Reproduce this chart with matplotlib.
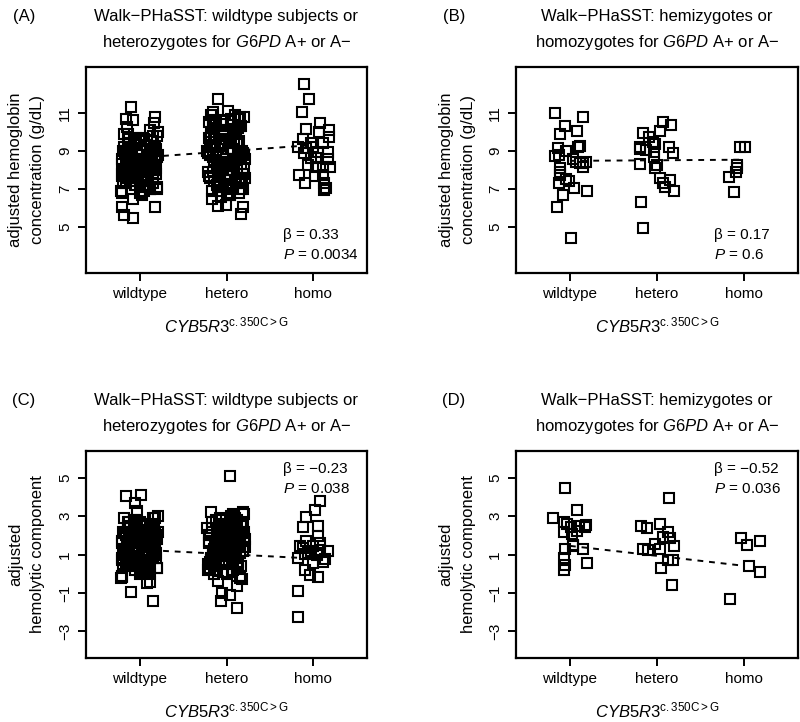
import numpy as np
import matplotlib
matplotlib.use("Agg")
import matplotlib.pyplot as plt

plt.rcParams["font.family"] = ["Liberation Sans", "DejaVu Sans"]
plt.rcParams["mathtext.fontset"] = "custom"
plt.rcParams["mathtext.rm"] = "Liberation Sans"
plt.rcParams["mathtext.it"] = "Liberation Sans:italic"

MINUS = "\u2212"

# ---- data ----
groups = ["wildtype", "hetero", "homo"]

# horizontal jitter shared by the dense clusters (offset from group position)
jitter = [
    -0.18, 0.05, -0.12, 0.17, -0.03, 0.10, -0.20, 0.14, -0.08, 0.02,
    0.19, -0.15, 0.07, -0.05, 0.12, -0.21, 0.00, 0.16, -0.10, 0.08,
    -0.17, 0.04, 0.20, -0.13, 0.11, -0.02, -0.19, 0.15, -0.07, 0.06,
    0.18, -0.11, 0.01, -0.16, 0.13, -0.04, 0.09, -0.22, 0.21, -0.09,
    0.03, -0.14, 0.17, -0.06, 0.10, -0.18, 0.07, -0.01, 0.14, -0.20,
    0.05, -0.12, 0.19, -0.08, 0.11, -0.16, 0.02, 0.15, -0.03, -0.21,
    0.08, -0.10, 0.16, -0.05, 0.12, -0.19, 0.04, -0.14, 0.20, -0.07,
    0.01, 0.13, -0.17, 0.09, -0.02, 0.18, -0.11, 0.06, -0.15, 0.10,
    -0.20, 0.03, 0.17, -0.09, 0.14, -0.04, -0.18, 0.07, 0.21, -0.13,
    0.00, 0.11, -0.06, 0.15, -0.16, 0.05, -0.01, 0.19, -0.12, 0.08,
    -0.08, 0.16, -0.19, 0.02, 0.12, -0.14, 0.06, -0.03, 0.20, -0.10,
]

# Panel A: hemoglobin, wildtype / heterozygote G6PD
a_wt_core = [
    9.9, 9.6, 9.4, 9.2, 9.0, 8.8, 8.6, 8.4, 8.2, 8.0,
    7.8, 7.6, 7.4, 7.2, 7.0, 6.8, 9.5, 9.1, 8.7, 8.3,
    7.9, 7.5, 7.1, 8.9, 8.5, 8.1, 7.7, 7.3, 9.3, 8.6,
    8.0, 7.4, 9.7, 9.0, 8.4, 7.8, 7.2, 6.9, 8.8, 8.2,
    7.6, 9.4, 8.7, 8.1, 7.5, 9.2, 8.5, 7.9, 8.9, 8.3,
    7.7, 9.6, 9.1, 8.6, 8.0, 7.3, 6.7, 9.8, 8.4, 7.8,
    9.3, 8.8, 8.2, 7.6, 7.0, 9.0, 8.5, 8.0, 8.7, 8.1,
    7.5, 9.5, 8.9, 8.3, 7.9, 8.6, 9.2, 7.1, 8.4, 8.8,
    7.7, 9.1, 8.2, 7.4, 8.6, 9.7, 8.0, 7.2, 10.0, 9.9,
    6.8, 8.5, 9.4, 7.8, 8.3, 6.9, 9.6, 8.1, 8.7, 7.9,
    8.5, 9.0, 7.3, 8.2, 8.9, 7.6, 8.4, 9.3, 7.0, 8.6,
]
a_wt_out_x = [0.90, 0.84, 0.92, 0.85, 1.18, 1.16, 1.12, 1.20, 0.80, 0.82, 0.92, 1.17, 0.92]
a_wt_out_y = [11.31, 10.65, 10.62, 10.27, 10.76, 10.44, 10.09, 9.78, 6.08, 5.64, 5.47, 6.08, 6.46]
a_het_core = [
    10.9, 10.7, 10.5, 10.3, 10.1, 9.9, 9.7, 9.5, 9.3, 9.1,
    8.9, 8.7, 8.5, 8.3, 8.1, 7.9, 7.7, 7.5, 7.3, 7.1,
    6.9, 6.7, 10.8, 10.4, 10.0, 9.6, 9.2, 8.8, 8.4, 8.0,
    7.6, 7.2, 6.8, 10.6, 10.2, 9.8, 9.4, 9.0, 8.6, 8.2,
    7.8, 7.4, 7.0, 6.6, 10.9, 10.0, 9.1, 8.2, 7.3, 10.5,
    9.6, 8.7, 7.8, 6.9, 10.1, 9.2, 8.3, 7.4, 9.9, 8.9,
    8.0, 7.1, 10.3, 9.4, 8.5, 7.6, 6.7, 9.7, 8.8, 7.9,
    7.0, 10.7, 9.3, 8.4, 7.5, 9.0, 8.1, 7.2, 10.2, 8.6,
    7.7, 9.5, 8.3, 7.4, 6.8, 10.6, 9.8, 8.9, 7.6, 9.2,
    8.0, 7.3, 10.4, 8.7, 7.9, 9.1, 8.4, 7.0, 9.6, 8.2,
    7.5, 10.8, 8.8, 7.8, 9.4, 8.5, 7.2, 10.0, 8.1, 7.7,
]
a_het_out_x = [1.90, 1.85, 2.02, 1.83, 1.90, 1.99, 2.19, 2.17]
a_het_out_y = [11.70, 11.05, 11.10, 6.50, 6.11, 6.17, 6.08, 5.69]
a_homo_x = [2.89, 2.95, 2.87, 3.08, 2.92, 3.18, 3.07, 3.18, 2.88, 2.97, 3.11, 2.83, 2.92,
            3.00, 2.89, 3.05, 3.17, 2.97, 3.03, 3.17, 2.94, 3.19, 3.03, 3.11, 2.84, 3.02,
            3.11, 2.90, 3.12, 3.12, 3.15]
a_homo_y = [12.50, 11.70, 11.05, 10.48, 10.13, 10.09, 10.00, 9.71, 9.60, 9.43, 9.39, 9.18, 9.13,
            9.18, 8.87, 8.96, 8.96, 8.64, 8.61, 8.57, 8.26, 8.17, 8.14, 8.14, 7.74, 7.68,
            7.74, 7.34, 7.34, 6.95, 7.04]

# Panel B: hemoglobin, hemizygote / homozygote G6PD
b_wt_x = [0.83, 1.15, 0.94, 0.89, 1.08, 1.11, 1.09, 0.86, 0.96, 0.83, 0.87, 1.03, 1.07, 1.12,
          1.15, 1.18, 1.15, 0.89, 0.89, 0.88, 0.96, 0.87, 0.99, 1.05, 1.20, 0.92, 0.85, 1.01]
b_wt_y = [10.97, 10.76, 10.30, 9.87, 10.04, 9.27, 9.19, 9.14, 9.01, 8.73, 8.79, 8.56, 8.43, 8.38,
          8.35, 8.43, 8.17, 8.09, 7.91, 7.74, 7.51, 7.34, 7.42, 7.04, 6.90, 6.69, 6.05, 4.42]
b_het_x = [2.07, 2.16, 2.03, 1.84, 1.91, 1.95, 1.98, 1.80, 1.81, 1.87, 1.96, 2.14, 2.18, 1.96,
           1.80, 2.00, 1.98, 2.03, 2.15, 2.07, 2.09, 2.19, 1.82, 1.84]
b_het_y = [10.50, 10.36, 10.06, 9.92, 9.74, 9.48, 9.35, 9.22, 9.10, 9.05, 8.96, 9.22, 8.91, 8.66,
           8.31, 8.26, 8.09, 7.57, 7.48, 7.30, 7.09, 6.92, 6.31, 4.98]
b_homo_x = [2.95, 3.01, 2.92, 2.92, 2.91, 2.83, 2.88]
b_homo_y = [9.22, 9.19, 8.26, 8.09, 7.91, 7.65, 6.86]

# Panel C: hemolytic component, wildtype / heterozygote G6PD
c_wt_core = [
    2.9, 2.6, 2.4, 2.2, 2.0, 1.8, 1.6, 1.4, 1.2, 1.0,
    0.8, 0.6, 0.4, 0.2, 0.0, -0.1, 2.7, 2.3, 1.9, 1.5,
    1.1, 0.7, 0.3, 2.5, 2.1, 1.7, 1.3, 0.9, 2.8, 1.6,
    1.0, 0.5, 2.6, 2.0, 1.4, 0.8, 0.2, -0.2, 2.2, 1.8,
    1.2, 2.4, 1.9, 1.3, 0.7, 2.1, 1.5, 1.1, 2.3, 1.7,
    0.9, 2.7, 2.0, 1.6, 1.0, 0.4, 0.1, 2.9, 1.4, 0.8,
    2.5, 1.9, 1.3, 0.6, 0.3, 2.2, 1.7, 1.2, 1.8, 1.1,
    0.5, 2.6, 2.1, 1.5, 0.9, 1.6, 2.4, 0.2, 1.4, 2.0,
    0.7, 2.3, 1.2, 0.4, 1.8, 2.8, 1.0, 0.3, 3.0, 2.7,
    0.0, 1.5, 2.5, 0.8, 1.3, 0.1, 2.2, 1.1, 1.9, 0.6,
    1.7, 2.0, 0.5, 1.2, 2.1, 0.9, 1.4, 2.4, 0.3, 1.6,
]
c_wt_out_x = [0.84, 1.01, 0.95, 0.97, 0.80, 0.90, 1.08, 1.15, 1.12, 1.18]
c_wt_out_y = [4.06, 4.12, 3.68, 3.25, -0.15, -0.98, -0.50, -1.45, -0.46, 2.90]
c_het_core = [
    3.2, 3.0, 2.8, 2.6, 2.4, 2.2, 2.0, 1.8, 1.6, 1.4,
    1.2, 1.0, 0.8, 0.6, 0.4, 0.2, 0.0, -0.2, -0.4, 3.1,
    2.7, 2.3, 1.9, 1.5, 1.1, 0.7, 0.3, -0.1, 2.9, 2.5,
    2.1, 1.7, 1.3, 0.9, 0.5, 0.1, 3.0, 2.4, 1.8, 1.2,
    0.6, 0.0, 2.6, 2.0, 1.4, 0.8, 0.2, 2.8, 2.2, 1.6,
    1.0, 0.4, 2.5, 1.9, 1.3, 0.7, 2.3, 1.7, 1.1, 0.5,
    2.7, 2.1, 1.5, 0.9, 0.3, 2.0, 1.4, 0.8, 3.1, 1.8,
    1.2, 0.6, 2.4, 1.6, 1.0, -0.3, 2.2, 1.5, 0.9, 2.9,
    1.7, 1.1, 0.4, 2.6, 1.9, 1.3, 0.7, 2.1, 1.4, 0.2,
    1.8, 1.0, 2.5, 1.6, 0.5, 2.0, 1.2, 3.2, 0.8, 1.5,
    2.3, 1.1, 0.6, 1.9, 2.8, 1.3, 0.1, 1.7, 2.2, 0.9,
]
c_het_out_x = [2.04, 1.95, 2.04, 1.94, 2.12, 2.12]
c_het_out_y = [5.11, -1.02, -1.11, -1.45, -1.80, -0.62]
c_homo_x = [3.08, 3.02, 2.92, 2.88, 3.06, 3.06, 2.92, 2.85, 2.88, 3.00, 3.08, 3.17, 2.83, 2.94,
            3.04, 3.11, 3.00, 2.90, 2.96, 3.06, 2.83, 2.83, 3.08, 2.90, 3.13, 2.97]
c_homo_y = [3.80, 3.33, 2.98, 2.46, 2.50, 1.94, 1.68, 1.42, 1.33, 1.45, 1.59, 1.16, 0.81, 1.07,
            0.98, 0.63, 0.55, 0.20, -0.06, -0.15, -0.93, -2.27, 1.24, 1.05, 0.75, 1.20]

# Panel D: hemolytic component, hemizygote / homozygote G6PD
d_wt_x = [0.94, 1.08, 0.81, 0.93, 1.01, 1.18, 1.17, 1.08, 0.93, 1.02, 1.04, 1.03, 0.94, 1.15,
          0.93, 0.94, 0.93, 1.20, 1.10, 0.97]
d_wt_y = [4.47, 3.30, 2.90, 2.72, 2.43, 2.55, 2.43, 2.25, 2.17, 2.08, 1.51, 1.42, 1.30, 1.28,
          0.81, 0.46, 0.20, 0.55, 2.50, 2.60]
d_het_x = [2.14, 1.82, 1.88, 2.03, 2.13, 2.07, 2.15, 1.98, 2.20, 1.84, 1.90, 2.03, 2.13, 2.18,
           2.05, 2.17]
d_het_y = [3.95, 2.50, 2.38, 2.60, 2.20, 1.91, 1.86, 1.56, 1.45, 1.28, 1.21, 1.28, 0.69, 0.69,
           0.29, -0.58]
d_homo_x = [2.97, 3.03, 3.18, 3.06, 3.18, 2.84]
d_homo_y = [1.86, 1.51, 1.73, 0.41, 0.11, -1.33]

# fitted lines (value at wildtype, value at homo)
fit_a = [8.65, 9.31]
fit_b = [8.48, 8.54]
fit_c = [1.25, 0.79]
fit_d = [1.45, 0.41]

stats_a = ("0.33", "0.0034")
stats_b = ("0.17", "0.6")
stats_c = (MINUS + "0.23", "0.038")
stats_d = (MINUS + "0.52", "0.036")

title_a = ["Walk" + MINUS + "PHaSST: wildtype subjects or",
           r"heterozygotes for $\mathit{G6PD}$ A+ or A" + MINUS]
title_b = ["Walk" + MINUS + "PHaSST: hemizygotes or",
           r"homozygotes for $\mathit{G6PD}$ A+ or A" + MINUS]
ylab_hb = ["adjusted hemoglobin", "concentration (g/dL)"]
ylab_hc = ["adjusted", "hemolytic component"]
xlab = r"$\mathit{CYB5R3}^{\mathrm{c{.}350C{>}G}}$"


def cluster(core, center):
    return [center + j for j in jitter[:len(core)]], core


fig = plt.figure(figsize=(8, 7.22), dpi=100)
W, H = 800, 722


def panel(rect, letter, title, ylab, pts, fit, stats, yticks, ylim, stats_top):
    l, t, r, b = rect
    ax = fig.add_axes([l / W, 1 - b / H, (r - l) / W, (b - t) / H])
    ax.plot([1, 3], fit, ls=(0, (3, 3)), color="black", lw=1.4, zorder=1)
    for x, y in pts:
        ax.plot(x, y, ls="none", marker="s", ms=7, mfc="none", mec="black",
                mew=1.5, zorder=2)
    ax.set_xlim(0.38, 3.62)
    ax.set_ylim(*ylim)
    ax.set_xticks([1, 2, 3])
    ax.set_xticklabels(groups, fontsize=11)
    ax.set_yticks(yticks)
    ax.set_yticklabels([str(v).replace("-", MINUS) for v in yticks], fontsize=11,
                       rotation=90, va="center")
    ax.tick_params(length=6, width=1.4, pad=4)
    for s in ax.spines.values():
        s.set_linewidth(1.6)

    cx = (l + r) / 2 / W
    fig.text(cx, 1 - (t - 50) / H, title[0], ha="center", va="center", fontsize=12)
    fig.text(cx, 1 - (t - 24) / H, title[1], ha="center", va="center", fontsize=12)
    fig.text((l - 62) / W, 1 - (t - 50) / H, letter, ha="center", va="center", fontsize=12)
    cy = 1 - (t + b) / 2 / H
    fig.text((l - 70) / W, cy, ylab[0], rotation=90, ha="center", va="center", fontsize=12)
    fig.text((l - 48) / W, cy, ylab[1], rotation=90, ha="center", va="center", fontsize=12)
    fig.text(cx, 1 - (b + 52) / H, xlab, ha="center", va="center", fontsize=12)

    sx = r - 84
    fig.text(sx / W, 1 - stats_top / H, "\u03b2 = " + stats[0], ha="left", va="center",
             fontsize=11)
    fig.text(sx / W, 1 - (stats_top + 20) / H, r"$\mathit{P}$ = " + stats[1], ha="left",
             va="center", fontsize=11)
    return ax


pts_a = [cluster(a_wt_core, 1), (a_wt_out_x, a_wt_out_y), cluster(a_het_core, 2),
         (a_het_out_x, a_het_out_y), (a_homo_x, a_homo_y)]
pts_b = [(b_wt_x, b_wt_y), (b_het_x, b_het_y), (b_homo_x, b_homo_y)]
pts_c = [cluster(c_wt_core, 1), (c_wt_out_x, c_wt_out_y), cluster(c_het_core, 2),
         (c_het_out_x, c_het_out_y), (c_homo_x, c_homo_y)]
pts_d = [(d_wt_x, d_wt_y), (d_het_x, d_het_y), (d_homo_x, d_homo_y)]

panel((86, 67, 367, 273), "(A)", title_a, ylab_hb, pts_a, fit_a, stats_a,
      [5, 7, 9, 11], (2.6, 13.4), 235)
panel((516, 67, 798, 273), "(B)", title_b, ylab_hb, pts_b, fit_b, stats_b,
      [5, 7, 9, 11], (2.6, 13.4), 235)
panel((86, 451, 367, 658), "(C)", title_a, ylab_hc, pts_c, fit_c, stats_c,
      [-3, -1, 1, 3, 5], (-4.4, 6.4), 469)
panel((516, 451, 798, 658), "(D)", title_b, ylab_hc, pts_d, fit_d, stats_d,
      [-3, -1, 1, 3, 5], (-4.4, 6.4), 469)

fig.savefig("out.png", dpi=100)
